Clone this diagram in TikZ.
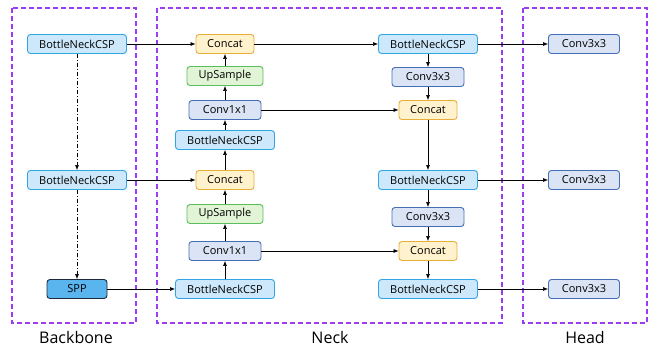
\documentclass[tikz,border=0pt]{standalone}
\usepackage{fontspec}
\setmainfont{Open Sans}
\usetikzlibrary{arrows.meta, positioning}
\definecolor{bnFill}  {RGB}{204,232,250}
\definecolor{bnDraw}  {RGB}{ 50,165,230}
\definecolor{catFill} {RGB}{255,242,204}
\definecolor{catDraw} {RGB}{230,175, 60}
\definecolor{upFill}  {RGB}{226,244,214}
\definecolor{upDraw}  {RGB}{ 90,190, 90}
\definecolor{convFill}{RGB}{218,228,245}
\definecolor{convDraw}{RGB}{ 70,110,180}
\definecolor{sppFill} {RGB}{ 90,180,238}
\definecolor{sppDraw} {RGB}{ 30, 40, 60}
\definecolor{frameVio}{RGB}{155, 60,240}

\begin{document}
\begin{tikzpicture}[x=1pt, y=-1pt,
  %% Block base style
  blk/.style={
    rectangle, rounded corners=3pt,
    minimum height=19pt, inner sep=0pt,
    line width=0.9pt, font=\fontsize{11}{12}\selectfont
  },
  bneck/.style={blk, fill=bnFill, draw=bnDraw, minimum width=99pt},
  concat/.style={blk, fill=catFill, draw=catDraw, minimum width=58pt},
  upsmp/.style={blk, fill=upFill, draw=upDraw, minimum width=76pt},
  conv/.style={blk, fill=convFill, draw=convDraw, minimum width=72pt},
  spp/.style={blk, fill=sppFill, draw=sppDraw, minimum width=60pt},
  %% Section frame
  frame/.style={draw=frameVio, line width=1.1pt, dash pattern=on 5pt off 3pt},
  %% Section title
  title/.style={font=\fontsize{16}{18}\selectfont},
  %% Flow arrow
  farr/.style={-{Latex[length=5pt,width=4pt]}, line width=0.6pt},
  %% Backbone chain arrow
  darr/.style={farr, dash pattern=on 4pt off 2pt on 1pt off 2pt},
]
\useasboundingbox (0,0) rectangle (656,346);

%% ── Y positions (top to bottom) ────────────────────────────────────────────
\def\yA{44}
\def\yB{77}
\def\yC{110}
\def\yD{140}
\def\yE{180}
\def\yF{214}
\def\yG{251}
\def\yH{289}

%% ── FRAMES ──────────────────────────────────────────────────────────────────
\draw[frame] (12,8) rectangle (136,323);
\draw[frame] (157,8) rectangle (502,323);
\draw[frame] (523,8) rectangle (647,323);
\node[title] (tBB) at (76,337) {Backbone};
\node[title] (tNK) at (330,337) {Neck};
\node[title] (tHD) at (585,337) {Head};

%% ── BACKBONE ────────────────────────────────────────────────────────────────
\node[bneck] (B1) at (77,\yA) {BottleNeckCSP};
\node[bneck] (B2) at (77,\yE) {BottleNeckCSP};
\node[spp]   (SPP) at (77,\yH) {SPP};

%% ── NECK, UPWARD PATH ───────────────────────────────────────────────────────
\node[concat] (C1) at (225,\yA) {Concat};
\node[upsmp]  (U1) at (225,76) {UpSample};
\node[conv]   (K1) at (225,\yC) {Conv1x1};
\node[bneck]  (N1) at (225,\yD) {BottleNeckCSP};
\node[concat] (C2) at (225,\yE) {Concat};
\node[upsmp]  (U2) at (225,\yF) {UpSample};
\node[conv]   (K2) at (225,\yG) {Conv1x1};
\node[bneck]  (N2) at (225,\yH) {BottleNeckCSP};

%% ── NECK, DOWNWARD PATH ─────────────────────────────────────────────────────
\node[bneck]  (R1) at (428,\yA) {BottleNeckCSP};
\node[conv]   (S1) at (428,\yB) {Conv3x3};
\node[concat] (D1) at (428,\yC) {Concat};
\node[bneck]  (R2) at (428,\yE) {BottleNeckCSP};
\node[conv]   (S2) at (428,217) {Conv3x3};
\node[concat] (D2) at (428,\yG) {Concat};
\node[bneck]  (R3) at (428,\yH) {BottleNeckCSP};

%% ── HEAD ────────────────────────────────────────────────────────────────────
\node[conv, minimum width=71pt] (H1) at (584,\yA) {Conv3x3};
\node[conv, minimum width=71pt] (H2) at (584,\yE) {Conv3x3};
\node[conv, minimum width=71pt] (H3) at (584,\yH) {Conv3x3};

%% ── BACKBONE CHAIN ──────────────────────────────────────────────────────────
\draw[darr] (B1.south) -- (B2.north);
\draw[darr] (B2.south) -- (SPP.north);

%% ── LATERAL LINKS ───────────────────────────────────────────────────────────
\draw[farr] (B1.east) -- (C1.west);
\draw[farr] (B2.east) -- (C2.west);
\draw[farr] (SPP.east) -- (N2.west);
\draw[farr] (C1.east) -- (R1.west);
\draw[farr] (K1.east) -- (D1.west);
\draw[farr] (K2.east) -- (D2.west);

%% ── UPWARD FLOW ─────────────────────────────────────────────────────────────
\draw[farr] (N2.north) -- (K2.south);
\draw[farr] (K2.north) -- (U2.south);
\draw[farr] (U2.north) -- (C2.south);
\draw[farr] (C2.north) -- (N1.south);
\draw[farr] (N1.north) -- (K1.south);
\draw[farr] (K1.north) -- (U1.south);
\draw[farr] (U1.north) -- (C1.south);

%% ── DOWNWARD FLOW ───────────────────────────────────────────────────────────
\draw[farr] (R1.south) -- (S1.north);
\draw[farr] (S1.south) -- (D1.north);
\draw[farr] (D1.south) -- (R2.north);
\draw[farr] (R2.south) -- (S2.north);
\draw[farr] (S2.south) -- (D2.north);
\draw[farr] (D2.south) -- (R3.north);

%% ── TO HEAD ─────────────────────────────────────────────────────────────────
\draw[farr] (R1.east) -- (H1.west);
\draw[farr] (R2.east) -- (H2.west);
\draw[farr] (R3.east) -- (H3.west);

\end{tikzpicture}
\end{document}
